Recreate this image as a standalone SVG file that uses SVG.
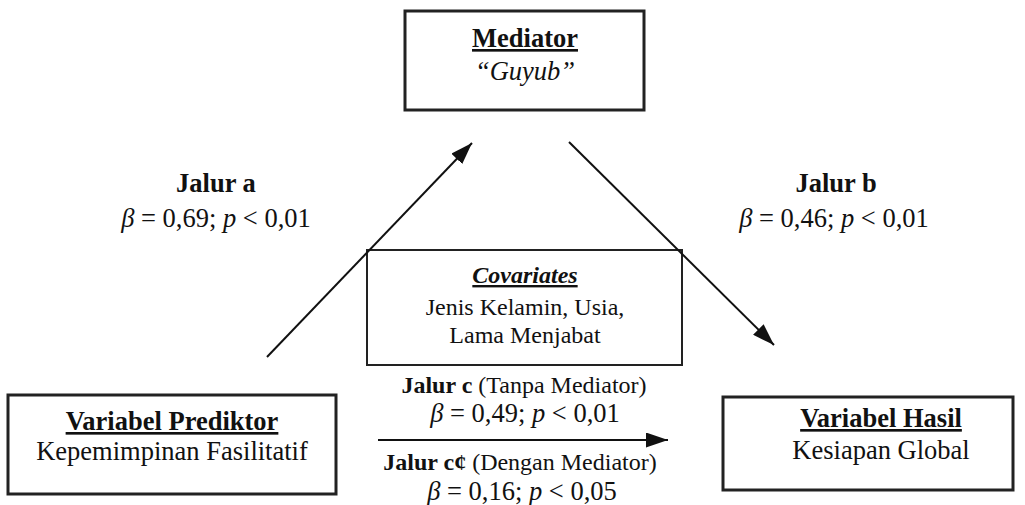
<svg xmlns="http://www.w3.org/2000/svg" width="1025" height="505" viewBox="0 0 1025 505">
<style>
text{font-family:"Liberation Serif","Times New Roman",serif;fill:#111;text-anchor:middle}
.t{font-size:26.5px}
.s{font-size:24px}
.b{font-weight:bold}
.i{font-style:italic}
.u{text-decoration:underline}
.box{fill:#fff;stroke:#222;stroke-width:3}
.cov{fill:#fff;stroke:#222;stroke-width:2}
.ln{stroke:#111;stroke-width:2;fill:none}
</style>
<defs>
<marker id="ah" viewBox="0 0 10 10" refX="10" refY="5" markerWidth="8" markerHeight="7" markerUnits="userSpaceOnUse" orient="auto" preserveAspectRatio="none">
<path d="M0,0 L10,5 L0,10 z" fill="#111"/>
</marker>
<marker id="ahb" viewBox="0 0 10 10" refX="10" refY="5" markerWidth="22" markerHeight="15" markerUnits="userSpaceOnUse" orient="auto" preserveAspectRatio="none">
<path d="M0,0 L10,5 L0,10 z" fill="#111"/>
</marker>
</defs>
<rect width="1025" height="505" fill="#fff"/>
<g id="mediator">
<rect class="box" x="405" y="11" width="239" height="99"/>
<text class="t b u" x="525" y="47">Mediator</text>
<text class="t i" x="525" y="80">“Guyub”</text>
</g>
<g id="covariates">
<rect class="cov" x="367" y="250" width="315" height="115"/>
<text class="s b i u" x="525" y="283">Covariates</text>
<text class="s" x="525" y="315">Jenis Kelamin, Usia,</text>
<text class="s" x="525" y="343">Lama Menjabat</text>
</g>
<g id="predictor">
<rect class="box" x="8" y="395" width="328" height="99"/>
<text class="t b u" x="172" y="430">Variabel Prediktor</text>
<text class="t" x="172" y="460">Kepemimpinan Fasilitatif</text>
</g>
<g id="outcome">
<rect class="box" x="723" y="397" width="290" height="93"/>
<text class="t b u" x="881" y="427">Variabel Hasil</text>
<text class="t" x="881" y="459">Kesiapan Global</text>
</g>
<g id="connectors">
<line class="ln" x1="267" y1="357" x2="472" y2="143" marker-end="url(#ahb)"/>
<line class="ln" x1="569" y1="142" x2="774" y2="345" marker-end="url(#ahb)"/>
<line class="ln" x1="378" y1="440" x2="668" y2="440" marker-end="url(#ahb)"/>
</g>
<g id="labels">
<text class="t b" x="216" y="192">Jalur a</text>
<text class="t" x="216" y="227"><tspan class="i">β</tspan> = 0,69; <tspan class="i">p</tspan> &lt; 0,01</text>
<text class="t b" x="836" y="192">Jalur b</text>
<text class="t" x="834" y="227"><tspan class="i">β</tspan> = 0,46; <tspan class="i">p</tspan> &lt; 0,01</text>
<text class="s" x="524" y="393"><tspan class="b">Jalur c</tspan> (Tanpa Mediator)</text>
<text class="t" x="525" y="422"><tspan class="i">β</tspan> = 0,49; <tspan class="i">p</tspan> &lt; 0,01</text>
<text class="s" x="520" y="470"><tspan class="b">Jalur c¢</tspan> (Dengan Mediator)</text>
<text class="t" x="522" y="500"><tspan class="i">β</tspan> = 0,16; <tspan class="i">p</tspan> &lt; 0,05</text>
</g>
</svg>
